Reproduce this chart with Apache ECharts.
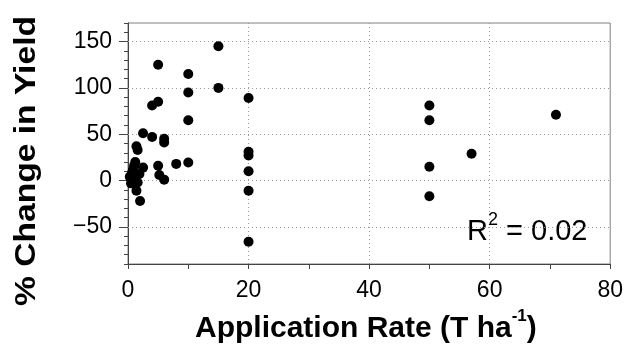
<!DOCTYPE html>
<html>
<head>
<meta charset="utf-8">
<script src="https://cdn.jsdelivr.net/npm/echarts@6/dist/echarts.min.js"></script>
<style>html,body{margin:0;padding:0;background:#fff}#c{width:626px;height:345px}</style>
</head>
<body>
<div id="c"></div>
<script>
// Application rate (T ha-1)
const appRate = [15, 5, 10, 15, 10, 20, 4, 5, 10, 2.5, 4, 6, 6, 1.4, 1.6, 20, 20, 20, 20, 20,
  8, 10, 5, 5.2, 6, 2.5, 1.2, 1.4, 2, 0.8, 0.3, 1.1, 1.9, 1.6, 0.5, 1, 0.6, 50, 50, 71, 57, 50, 50];
// % change in yield
const yieldChange = [145, 125, 115, 100, 95, 89, 81, 85, 65, 51, 47, 45, 41, 37, 33, 31, 27, 10, -11, -66,
  18, 19.5, 16, 6, 1, 14, 20, -11, -22, 11, 4, 0, 7, -2, -3, 16, 7, 81, 65, 71, 29, 15, -17];
const xTicks = [0, 20, 40, 60, 80];
const yTicks = [-50, 0, 50, 100, 150];
const r2Label = '0.02';

const points = appRate.map((x, i) => [x, yieldChange[i]]);
const fmt = v => String(v).replace('-', '\u2212');

const chart = echarts.init(document.getElementById('c'));
chart.setOption({
  animation: false,
  grid: { left: 128, right: 14, top: 23, bottom: 81, show: true, borderColor: '#808080', borderWidth: 1 },
  xAxis: [
    { type: 'value', min: 0, max: 80, interval: 10,
      axisLine: { onZero: false, lineStyle: { color: '#444', width: 1 } },
      axisTick: { show: true, length: 5, lineStyle: { color: '#444' } },
      axisLabel: { show: false },
      splitLine: { show: false } },
    { type: 'value', min: 0, max: 80, position: 'bottom',
      axisLine: { show: false, onZero: false },
      axisTick: { show: false },
      axisLabel: { customValues: xTicks, formatter: fmt, fontFamily: 'Liberation Sans', fontSize: 23, color: '#000', margin: 15 },
      splitLine: { show: false } }
  ],
  yAxis: [
    { type: 'value', min: -90, max: 170, interval: 10,
      axisLine: { show: true, onZero: false, lineStyle: { color: '#444', width: 1 } },
      axisTick: { show: true, length: 4, lineStyle: { color: '#444' } },
      axisLabel: { show: false },
      splitLine: { show: false } },
    { type: 'value', min: -90, max: 170, position: 'left',
      axisLine: { show: false, onZero: false },
      axisTick: { show: true, length: 9, customValues: yTicks, lineStyle: { color: '#444' } },
      axisLabel: { customValues: yTicks, formatter: fmt, fontFamily: 'Liberation Sans', fontSize: 23, color: '#000', margin: 16 },
      splitLine: { show: false } }
  ],
  series: [
    { type: 'scatter', xAxisIndex: 0, yAxisIndex: 0, data: points, symbolSize: 10,
      itemStyle: { color: '#000', opacity: 1 }, z: 5,
      markLine: {
        silent: true, symbol: 'none', label: { show: false },
        lineStyle: { type: [1, 3], color: '#999', width: 1 },
        data: yTicks.map(v => ({ yAxis: v })).concat(xTicks.slice(1, -1).map(v => ({ xAxis: v })))
      } }
  ],
  graphic: [
    { type: 'text', left: 195, top: 308,
      style: { text: '{b|Application Rate (T ha}{s|-1}{b|)}', rich: {
        b: { fontFamily: 'Liberation Sans', fontWeight: 'bold', fontSize: 30, fill: '#000', verticalAlign: 'bottom', lineHeight: 36 },
        s: { fontFamily: 'Liberation Sans', fontWeight: 'bold', fontSize: 17, fill: '#000', verticalAlign: 'top', lineHeight: 36 } } } },
    { type: 'text', x: 27, y: 161, rotation: Math.PI / 2, scaleX: 1.12,
      style: { text: '% Change in Yield', fontFamily: 'Liberation Sans', fontWeight: 'bold', fontSize: 30, fill: '#000', align: 'center', verticalAlign: 'middle' } },
    { type: 'text', left: 467, top: 211,
      style: { text: '{r|R}{s|2}{r| = ' + r2Label + '}', rich: {
        r: { fontFamily: 'Liberation Sans', fontSize: 29, fill: '#000', verticalAlign: 'bottom', lineHeight: 35 },
        s: { fontFamily: 'Liberation Sans', fontSize: 18, fill: '#000', verticalAlign: 'top', lineHeight: 35 } } } }
  ]
});
</script>
</body>
</html>
